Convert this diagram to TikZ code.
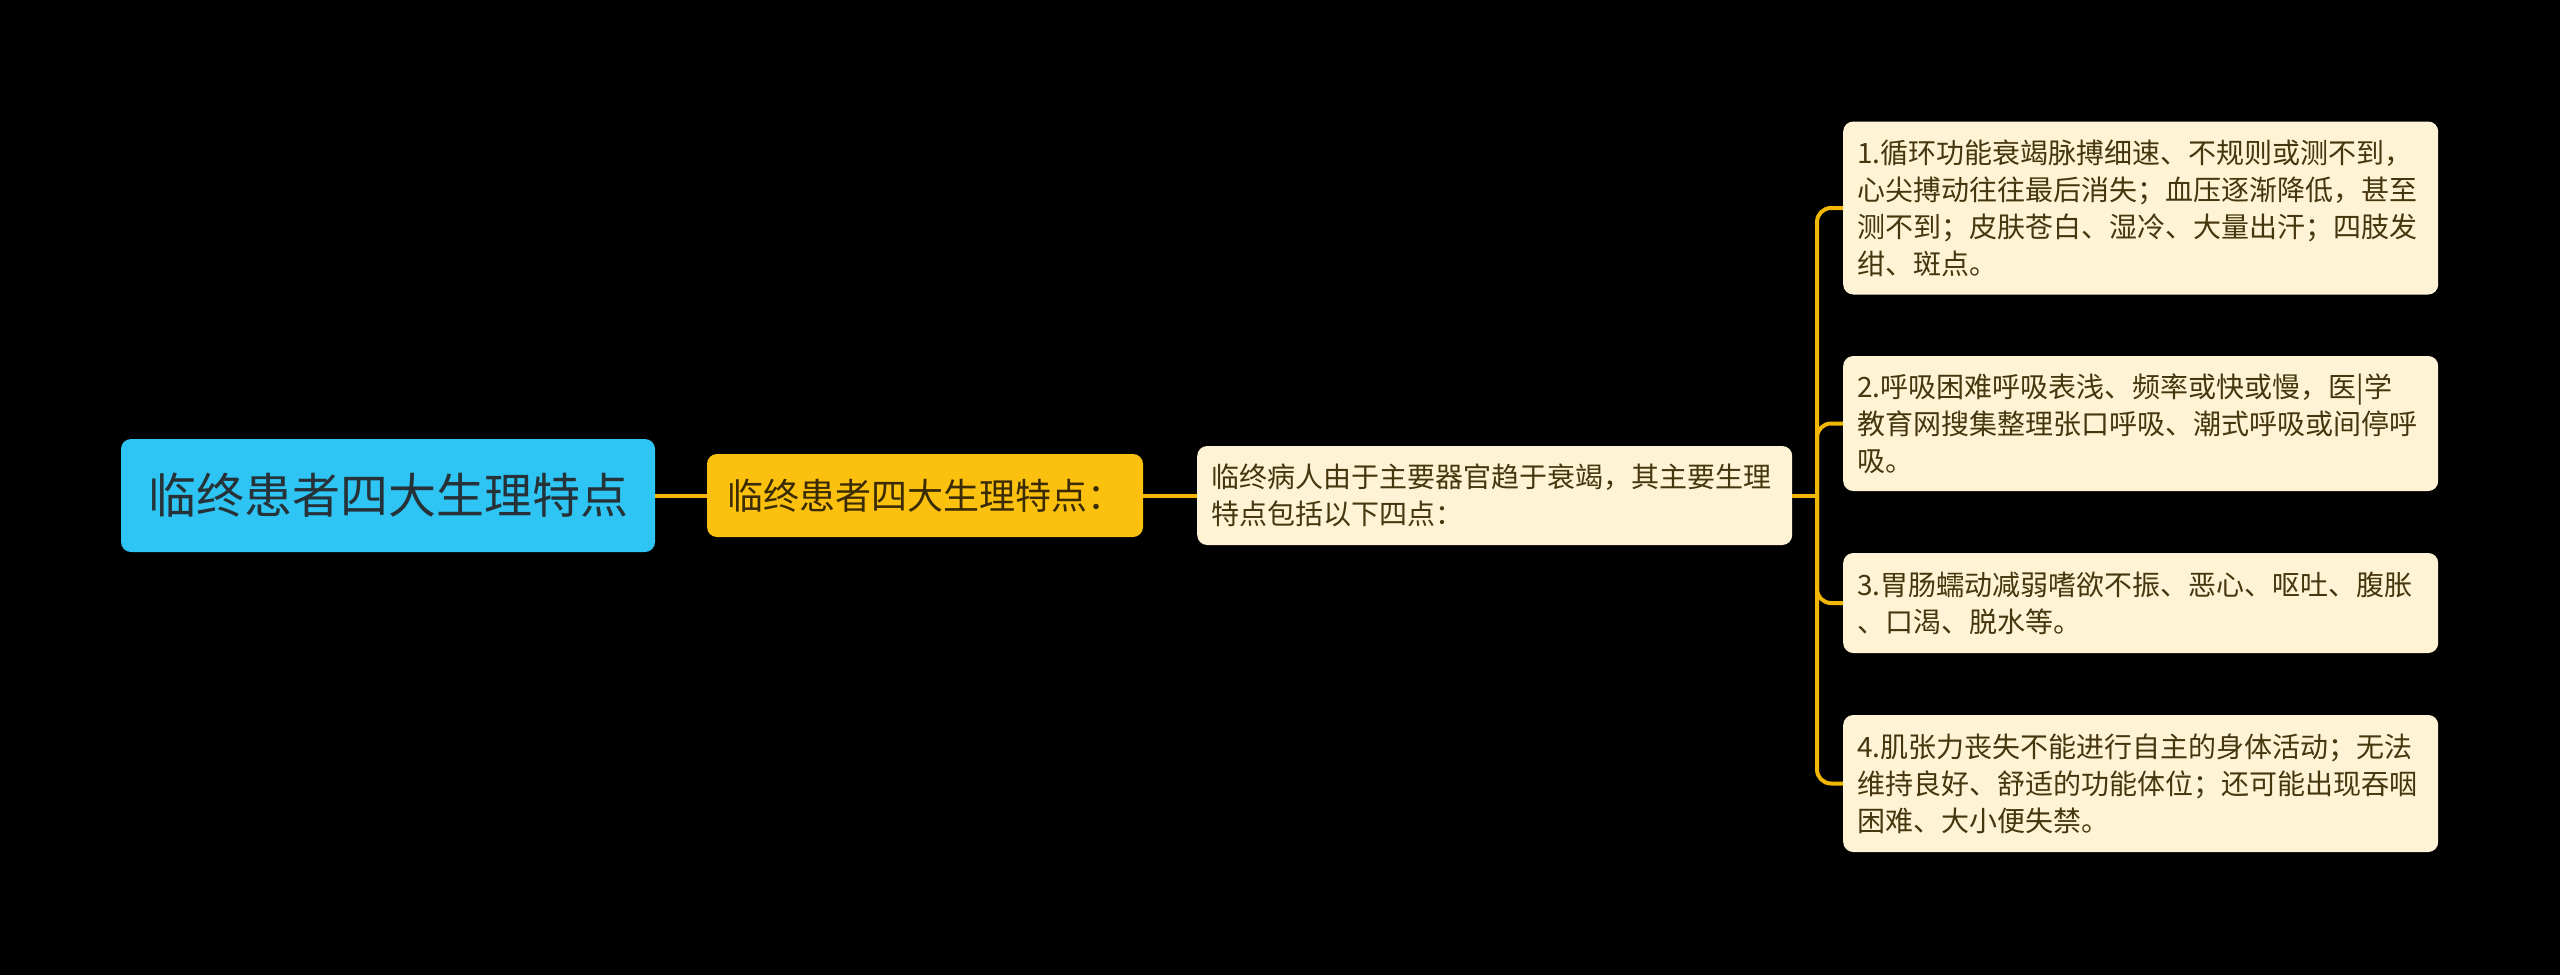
\documentclass[tikz,border=0pt]{standalone}
\usepackage{fontspec}
\setmainfont{Noto Sans CJK SC}
\definecolor{bg}{HTML}{000000}
\definecolor{rootfill}{HTML}{2EC4F3}
\definecolor{roottext}{HTML}{263238}
\definecolor{subfill}{HTML}{FCC10F}
\definecolor{subtext}{HTML}{3A2B05}
\definecolor{leaffill}{HTML}{FFF3D5}
\definecolor{leaftext}{HTML}{45360E}
\definecolor{linecol}{HTML}{F2B705}
\tikzset{
  conn/.style={draw=linecol, line width=4pt},
  boxbase/.style={rounded corners=10pt, inner sep=0pt},
  rootbox/.style={boxbase, fill=rootfill, text=roottext, minimum width=534pt, minimum height=113pt, font=\fontsize{48}{56}\selectfont},
  subbox/.style={boxbase, fill=subfill, text=subtext, minimum width=436pt, minimum height=83pt, font=\fontsize{36}{42}\selectfont},
  leafbox/.style={boxbase, fill=leaffill, text=leaftext, inner xsep=14pt, text width=567pt, align=left, font=\fontsize{28}{37}\selectfont},
}
\begin{document}
\begin{tikzpicture}[x=1pt,y=-1pt]
\useasboundingbox[fill=bg] (0,0) rectangle (2560,975);
\node[rootbox] (root) at (388,495.5) {临终患者四大生理特点};
\node[subbox] (sub) at (925,495.5) {临终患者四大生理特点：};
\node[leafbox, anchor=west, minimum height=99pt] (mid) at (1197,495.5) {临终病人由于主要器官趋于衰竭，其主要生理\\特点包括以下四点：};
\node[leafbox, anchor=west, minimum height=173pt] (b1) at (1843,208) {1.循环功能衰竭脉搏细速、不规则或测不到，\\心尖搏动往往最后消失；血压逐渐降低，甚至\\测不到；皮肤苍白、湿冷、大量出汗；四肢发\\绀、斑点。};
\node[leafbox, anchor=west, minimum height=135pt] (b2) at (1843,423.5) {2.呼吸困难呼吸表浅、频率或快或慢，医|学\\教育网搜集整理张口呼吸、潮式呼吸或间停呼\\吸。};
\node[leafbox, anchor=west, minimum height=100pt] (b3) at (1843,603) {3.胃肠蠕动减弱嗜欲不振、恶心、呕吐、腹胀\\、口渴、脱水等。};
\node[leafbox, anchor=west, minimum height=137pt] (b4) at (1843,783.5) {4.肌张力丧失不能进行自主的身体活动；无法\\维持良好、舒适的功能体位；还可能出现吞咽\\困难、大小便失禁。};
\coordinate (j) at (1817,495.5);
\draw[conn] (root.east) -- (sub.west);
\draw[conn] (sub.east) -- (mid.west);
\draw[conn] (mid.east) -- (j);
\draw[conn, rounded corners=14pt] (j) |- (b1.west);
\draw[conn, rounded corners=14pt] (j) |- (b2.west);
\draw[conn, rounded corners=14pt] (j) |- (b3.west);
\draw[conn, rounded corners=14pt] (j) |- (b4.west);
\end{tikzpicture}
\end{document}
